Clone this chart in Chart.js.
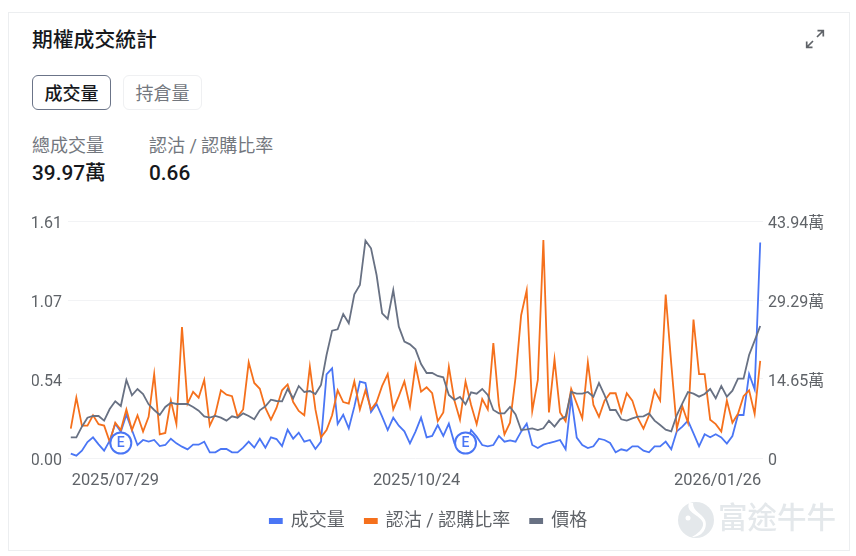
<!DOCTYPE html>
<html lang="zh-Hant">
<head>
<meta charset="utf-8">
<title>期權成交統計</title>
<script src="https://cdn.jsdelivr.net/npm/chart.js@4"></script>
<style>
    html, body { margin: 0; padding: 0; background: #fff; }
    body { width: 856px; height: 556px; position: relative; overflow: hidden; font-family: Roboto, "Noto Sans CJK TC", sans-serif; }
    .card { position: absolute; left: 8px; top: 12px; width: 840px; height: 537px; border: 1px solid #eceef0; }
    .abs { position: absolute; white-space: nowrap; line-height: 1; }
    .title { left: 32px; top: 30px; font-size: 20.8px; font-weight: 500; color: #16181c; }
    .btn { top: 75px; width: 77px; height: 33px; line-height: 35px; text-align: center; font-size: 18px; border-radius: 6px; }
    .btn.on { left: 32px; border: 1.5px solid #6b7488; color: #16181c; font-weight: 500; }
    .btn.off { left: 123px; border: 1.5px solid #eff0f2; color: #73777e; width: 77px; }
    .label { top: 137px; font-size: 18px; color: #73777e; }
    .value { top: 163px; font-size: 20.8px; font-weight: 500; color: #16181c; }
    .mark { left: 718px; top: 504px; font-size: 29.5px; color: #e4e8eb; font-weight: 500; }
    #chartBox { position: absolute; left: 0; top: 200px; width: 856px; height: 341px; }
</style>
</head>
<body>
<div class="card"></div>
<div class="abs title">期權成交統計</div>
<svg class="abs" style="left:804px;top:28px" width="22" height="22" viewBox="0 0 22 22" fill="none" stroke="#5f6368" stroke-width="1.7">
    <path d="M13 9 L19 3 M13.5 2.7 H19.3 V8.5"/>
    <path d="M9 13 L3 19 M2.7 13.5 V19.3 H8.5"/>
</svg>
<div class="abs btn on">成交量</div>
<div class="abs btn off">持倉量</div>
<div class="abs label" style="left:32px">總成交量</div>
<div class="abs label" style="left:149px">認沽 / 認購比率</div>
<div class="abs value" style="left:32px">39.97萬</div>
<div class="abs value" style="left:149px">0.66</div>
<div id="chartBox"><canvas id="myChart" width="856" height="341"></canvas></div>
<svg class="abs" style="left:677px;top:501px" width="38" height="38" viewBox="0 0 38 38">
    <circle cx="19" cy="19" r="18" fill="#e4e8eb"/>
    <path d="M12 2 C8 12 24 14 26 22 C27 28 20 33 15 36 C26 36 31 26 28 19 C25 12 16 11 16 2 Z" fill="#fff"/>
    <circle cx="11" cy="17" r="2.5" fill="#fff"/>
</svg>
<div class="abs mark">富途牛牛</div>

<script>
// 거래일 (2025/07/29 ~ 2026/01/26)
const dates = [
    "2025/07/29", "2025/07/30", "2025/07/31",
    "2025/08/01", "2025/08/04", "2025/08/05", "2025/08/06", "2025/08/07", "2025/08/08",
    "2025/08/11", "2025/08/12", "2025/08/13", "2025/08/14", "2025/08/15",
    "2025/08/18", "2025/08/19", "2025/08/20", "2025/08/21", "2025/08/22",
    "2025/08/25", "2025/08/26", "2025/08/27", "2025/08/28", "2025/08/29",
    "2025/09/02", "2025/09/03", "2025/09/04", "2025/09/05",
    "2025/09/08", "2025/09/09", "2025/09/10", "2025/09/11", "2025/09/12",
    "2025/09/15", "2025/09/16", "2025/09/17", "2025/09/18", "2025/09/19",
    "2025/09/22", "2025/09/23", "2025/09/24", "2025/09/25", "2025/09/26",
    "2025/09/29", "2025/09/30", "2025/10/01", "2025/10/02", "2025/10/03",
    "2025/10/06", "2025/10/07", "2025/10/08", "2025/10/09", "2025/10/10",
    "2025/10/13", "2025/10/14", "2025/10/15", "2025/10/16", "2025/10/17",
    "2025/10/20", "2025/10/21", "2025/10/22", "2025/10/23", "2025/10/24",
    "2025/10/27", "2025/10/28", "2025/10/29", "2025/10/30", "2025/10/31",
    "2025/11/03", "2025/11/04", "2025/11/05", "2025/11/06", "2025/11/07",
    "2025/11/10", "2025/11/11", "2025/11/12", "2025/11/13", "2025/11/14",
    "2025/11/17", "2025/11/18", "2025/11/19", "2025/11/20", "2025/11/21",
    "2025/11/24", "2025/11/25", "2025/11/26", "2025/11/28",
    "2025/12/01", "2025/12/02", "2025/12/03", "2025/12/04", "2025/12/05",
    "2025/12/08", "2025/12/09", "2025/12/10", "2025/12/11", "2025/12/12",
    "2025/12/15", "2025/12/16", "2025/12/17", "2025/12/18", "2025/12/19",
    "2025/12/22", "2025/12/23", "2025/12/24", "2025/12/26",
    "2025/12/29", "2025/12/30", "2025/12/31", "2026/01/02",
    "2026/01/05", "2026/01/06", "2026/01/07", "2026/01/08", "2026/01/09",
    "2026/01/12", "2026/01/13", "2026/01/14", "2026/01/15", "2026/01/16",
    "2026/01/20", "2026/01/21", "2026/01/22", "2026/01/23", "2026/01/26"
];

// 성교량 (萬)
const volume = [
    0.80, 0.43, 1.36, 2.97, 3.83, 2.53, 1.36, 3.21, 6.37, 4.88,
    8.03, 5.19, 2.41, 3.34, 3.03, 3.34, 2.22, 2.41, 3.58, 2.72,
    2.10, 1.61, 2.47, 2.47, 3.03, 1.05, 1.05, 1.67, 1.67, 1.05,
    1.05, 1.92, 3.03, 1.92, 3.58, 1.92, 3.83, 3.52, 2.22, 5.25,
    3.58, 4.70, 3.03, 3.34, 1.67, 3.03, 15.51, 16.62, 6.30, 8.03,
    5.50, 9.52, 14.15, 13.90, 8.53, 10.01, 7.66, 5.19, 7.48, 5.99,
    4.94, 2.72, 4.88, 7.48, 3.83, 4.08, 6.12, 4.08, 6.37, 2.72,
    1.17, 1.79, 5.19, 3.96, 2.41, 2.16, 2.41, 4.08, 3.03, 3.28,
    3.03, 4.88, 6.37, 2.41, 1.85, 2.47, 2.78, 3.03, 3.34, 1.61,
    11.19, 3.77, 2.41, 1.85, 2.16, 3.58, 3.34, 2.78, 1.05, 1.61,
    1.36, 2.16, 2.16, 1.36, 1.05, 2.16, 2.16, 3.03, 1.61, 4.94,
    5.81, 6.92, 4.57, 2.16, 4.39, 3.83, 4.39, 3.83, 2.66, 4.08,
    7.97, 7.97, 15.57, 12.73, 39.97
];

// 풋/콜 비율
const putCallRatio = [
    0.20, 0.41, 0.22, 0.22, 0.29, 0.23, 0.22, 0.11, 0.24, 0.19,
    0.33, 0.19, 0.29, 0.18, 0.28, 0.57, 0.16, 0.17, 0.39, 0.23,
    0.89, 0.37, 0.45, 0.41, 0.53, 0.22, 0.30, 0.46, 0.43, 0.42,
    0.28, 0.33, 0.65, 0.51, 0.47, 0.34, 0.26, 0.34, 0.46, 0.50,
    0.38, 0.32, 0.29, 0.62, 0.33, 0.14, 0.19, 0.29, 0.46, 0.38,
    0.37, 0.52, 0.33, 0.46, 0.33, 0.38, 0.49, 0.57, 0.33, 0.42,
    0.52, 0.35, 0.63, 0.45, 0.48, 0.44, 0.25, 0.31, 0.62, 0.39,
    0.26, 0.52, 0.36, 0.23, 0.40, 0.33, 0.78, 0.36, 0.16, 0.24,
    0.55, 0.97, 1.14, 0.32, 0.53, 1.48, 0.31, 0.67, 0.31, 0.25,
    0.47, 0.37, 0.27, 0.65, 0.36, 0.28, 0.39, 0.44, 0.44, 0.31,
    0.44, 0.39, 0.27, 0.20, 0.29, 0.46, 0.39, 1.11, 0.64, 0.20,
    0.35, 0.24, 0.94, 0.57, 0.57, 0.26, 0.23, 0.18, 0.39, 0.24,
    0.30, 0.42, 0.46, 0.30, 0.66
];

// 가격 (축은 숨김)
const price = [
    6.2, 6.2, 9.4, 12.1, 12.6, 12.6, 11.2, 14.7, 17.0, 15.6,
    23.4, 18.8, 20.7, 19.2, 16.1, 14.4, 12.9, 15.3, 16.6, 16.2,
    16.2, 16.2, 15.3, 14.2, 12.5, 12.1, 12.6, 12.1, 11.2, 12.5,
    12.1, 13.4, 12.6, 11.6, 14.3, 15.5, 17.5, 17.1, 17.0, 20.7,
    17.9, 21.6, 19.8, 20.1, 19.2, 21.9, 30.9, 38.2, 38.6, 43.2,
    40.4, 49.1, 51.9, 65.2, 62.9, 54.9, 43.4, 41.7, 50.4, 39.4,
    34.9, 34.1, 32.6, 28.2, 25.5, 25.5, 24.6, 24.2, 18.9, 17.4,
    18.3, 16.1, 19.7, 19.3, 20.7, 18.9, 14.4, 13.4, 13.4, 15.3,
    13.1, 8.4, 8.6, 8.9, 8.4, 8.9, 11.2, 9.4, 11.6, 12.4,
    19.8, 19.3, 19.3, 19.8, 18.4, 22.5, 18.9, 14.4, 14.4, 11.6,
    11.2, 11.9, 12.4, 12.5, 13.4, 11.2, 9.9, 8.5, 8.0, 12.9,
    16.4, 19.8, 19.3, 18.4, 19.2, 20.7, 17.9, 21.6, 18.4, 20.2,
    23.8, 23.8, 30.9, 35.2, 39.6
];

const leftTicks = [0, 0.54, 1.07, 1.61];
const rightTicks = [0, 14.65, 29.29, 43.94];
const xLabels = ["2025/07/29", "2025/10/24", "2026/01/26"];
const earningsDates = ["2025/08/11", "2025/11/06"];

let chart; // 전역 차트 객체

// E 표시를 그리는 플러그인
const earningsPlugin = {
    id: "earnings",
    afterDatasetsDraw(c) {
        const ctx = c.ctx;
        const y = c.chartArea.bottom - 15;
        earningsDates.forEach(function (d) {
            const x = c.scales.x.getPixelForValue(dates.indexOf(d));
            ctx.save();
            ctx.beginPath();
            ctx.arc(x, y, 10.5, 0, Math.PI * 2);
            ctx.fillStyle = "#fff";
            ctx.fill();
            ctx.lineWidth = 2;
            ctx.strokeStyle = "#4a76f5";
            ctx.stroke();
            ctx.fillStyle = "#4a76f5";
            ctx.font = "500 14px Roboto";
            ctx.textAlign = "center";
            ctx.textBaseline = "middle";
            ctx.fillText("E", x, y + 0.5);
            ctx.restore();
        });
    }
};

function initChart() {
    const ctx = document.getElementById("myChart").getContext("2d");
    chart = new Chart(ctx, {
        type: "line",
        plugins: [earningsPlugin],
        data: {
            labels: dates,
            datasets: [
                { label: "成交量", data: volume, yAxisID: "yRight", borderColor: "#4a76f5", backgroundColor: "#4a76f5", order: 3 },
                { label: "認沽 / 認購比率", data: putCallRatio, yAxisID: "yLeft", borderColor: "#f5701c", backgroundColor: "#f5701c", order: 2 },
                { label: "價格", data: price, yAxisID: "yPrice", borderColor: "#687183", backgroundColor: "#687183", order: 1 }
            ]
        },
        options: {
            responsive: false,
            animation: false,
            elements: {
                point: { radius: 0 },
                line: { borderWidth: 1.8, tension: 0 }
            },
            layout: { padding: { left: 32, right: 31, top: 21, bottom: 1 } },
            plugins: {
                tooltip: { enabled: false },
                legend: {
                    position: "bottom",
                    labels: {
                        boxWidth: 12,
                        boxHeight: 4,
                        padding: 20,
                        color: "#5f6368",
                        font: { family: "Roboto, 'Noto Sans CJK TC'", size: 18 },
                        sort: function (a, b) { return a.datasetIndex - b.datasetIndex; }
                    }
                }
            },
            scales: {
                x: {
                    offset: true,
                    afterFit: function (s) { s.height = 34; },
                    grid: { display: false },
                    border: { display: false },
                    ticks: {
                        autoSkip: false,
                        maxRotation: 0,
                        align: "inner",
                        labelOffset: 1,
                        padding: 5,
                        color: "#5f6368",
                        font: { family: "Roboto", size: 16.4 },
                        callback: function (v) {
                            const d = this.getLabelForValue(v);
                            return xLabels.includes(d) ? d : "";
                        }
                    }
                },
                yLeft: {
                    position: "left",
                    min: 0,
                    max: 1.61,
                    afterBuildTicks: function (s) { s.ticks = leftTicks.map(function (v) { return { value: v }; }); },
                    afterFit: function (s) { s.width = 36; },
                    grid: { color: "#f2f3f5", drawTicks: false },
                    border: { display: false },
                    ticks: {
                        padding: 6,
                        labelOffset: 3,
                        color: "#5f6368",
                        font: { family: "Roboto", size: 16 },
                        callback: function (v) { return v.toFixed(2); }
                    }
                },
                yRight: {
                    position: "right",
                    min: 0,
                    max: 43.94,
                    afterBuildTicks: function (s) { s.ticks = rightTicks.map(function (v) { return { value: v }; }); },
                    afterFit: function (s) { s.width = 62; },
                    grid: { display: false, drawTicks: false },
                    border: { display: false },
                    ticks: {
                        padding: 5,
                        labelOffset: 3,
                        color: "#5f6368",
                        font: { family: "Roboto, 'Noto Sans CJK TC'", size: 16 },
                        callback: function (v) { return v === 0 ? "0" : v + "萬"; }
                    }
                },
                yPrice: { display: false, min: 0, max: 71.1 }
            }
        }
    });
}

// 페이지가 로드될 때 차트를 초기화
window.onload = function () {
    initChart();
};
</script>
</body>
</html>
